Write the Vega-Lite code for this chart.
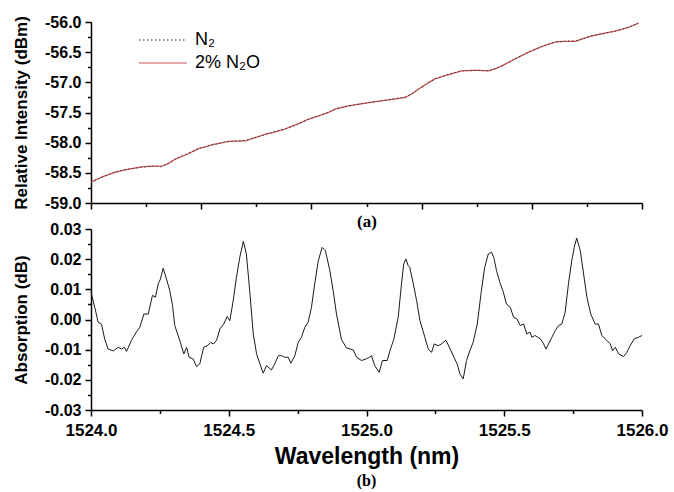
{
  "$schema": "https://vega.github.io/schema/vega-lite/v6.json",
  "padding": {"left": 12, "top": 14, "right": 2, "bottom": 0},
  "background": "white",
  "bounds": "flush",
  "spacing": 26,
  "config": {
    "view": {"stroke": null},
    "axis": {
      "domainColor": "black", "domainWidth": 1.5, "tickColor": "black", "tickWidth": 1.5,
      "labelFont": "Liberation Sans", "labelFontWeight": "bold", "labelColor": "black",
      "titleFont": "Liberation Sans", "titleFontWeight": "bold", "titleColor": "black",
      "grid": false, "labelFlush": false, "labelOverlap": false
    }
  },
  "datasets": {
    "top": [
      {"wl": 1524.000, "N2O": -58.65, "N2": -58.66},
      {"wl": 1524.045, "N2O": -58.56, "N2": -58.56},
      {"wl": 1524.089, "N2O": -58.49, "N2": -58.48},
      {"wl": 1524.135, "N2O": -58.44, "N2": -58.44},
      {"wl": 1524.183, "N2O": -58.40, "N2": -58.41},
      {"wl": 1524.220, "N2O": -58.39, "N2": -58.39},
      {"wl": 1524.256, "N2O": -58.39, "N2": -58.40},
      {"wl": 1524.280, "N2O": -58.35, "N2": -58.34},
      {"wl": 1524.307, "N2O": -58.27, "N2": -58.27},
      {"wl": 1524.350, "N2O": -58.19, "N2": -58.18},
      {"wl": 1524.390, "N2O": -58.10, "N2": -58.10},
      {"wl": 1524.445, "N2O": -58.03, "N2": -58.03},
      {"wl": 1524.499, "N2O": -57.98, "N2": -57.98},
      {"wl": 1524.561, "N2O": -57.97, "N2": -57.96},
      {"wl": 1524.600, "N2O": -57.91, "N2": -57.91},
      {"wl": 1524.633, "N2O": -57.86, "N2": -57.87},
      {"wl": 1524.670, "N2O": -57.82, "N2": -57.81},
      {"wl": 1524.706, "N2O": -57.77, "N2": -57.77},
      {"wl": 1524.750, "N2O": -57.69, "N2": -57.70},
      {"wl": 1524.790, "N2O": -57.61, "N2": -57.61},
      {"wl": 1524.830, "N2O": -57.55, "N2": -57.55},
      {"wl": 1524.862, "N2O": -57.50, "N2": -57.49},
      {"wl": 1524.888, "N2O": -57.44, "N2": -57.44},
      {"wl": 1524.935, "N2O": -57.39, "N2": -57.39},
      {"wl": 1524.975, "N2O": -57.36, "N2": -57.36},
      {"wl": 1525.018, "N2O": -57.33, "N2": -57.33},
      {"wl": 1525.080, "N2O": -57.29, "N2": -57.29},
      {"wl": 1525.142, "N2O": -57.25, "N2": -57.24},
      {"wl": 1525.165, "N2O": -57.19, "N2": -57.19},
      {"wl": 1525.189, "N2O": -57.11, "N2": -57.12},
      {"wl": 1525.220, "N2O": -57.02, "N2": -57.02},
      {"wl": 1525.250, "N2O": -56.94, "N2": -56.94},
      {"wl": 1525.300, "N2O": -56.87, "N2": -56.86},
      {"wl": 1525.345, "N2O": -56.81, "N2": -56.81},
      {"wl": 1525.400, "N2O": -56.80, "N2": -56.80},
      {"wl": 1525.443, "N2O": -56.81, "N2": -56.81},
      {"wl": 1525.470, "N2O": -56.77, "N2": -56.77},
      {"wl": 1525.490, "N2O": -56.73, "N2": -56.73},
      {"wl": 1525.540, "N2O": -56.61, "N2": -56.61},
      {"wl": 1525.588, "N2O": -56.50, "N2": -56.50},
      {"wl": 1525.640, "N2O": -56.40, "N2": -56.40},
      {"wl": 1525.686, "N2O": -56.33, "N2": -56.33},
      {"wl": 1525.720, "N2O": -56.32, "N2": -56.32},
      {"wl": 1525.759, "N2O": -56.32, "N2": -56.31},
      {"wl": 1525.790, "N2O": -56.27, "N2": -56.27},
      {"wl": 1525.817, "N2O": -56.23, "N2": -56.23},
      {"wl": 1525.860, "N2O": -56.19, "N2": -56.19},
      {"wl": 1525.904, "N2O": -56.15, "N2": -56.15},
      {"wl": 1525.950, "N2O": -56.09, "N2": -56.09},
      {"wl": 1525.987, "N2O": -56.02, "N2": -56.02}
    ],
    "bottom": [
      {"wl": 1524.000, "a": 0.0090}, {"wl": 1524.014, "a": 0.0039}, {"wl": 1524.026, "a": -0.0009},
      {"wl": 1524.038, "a": -0.0015}, {"wl": 1524.050, "a": -0.0066}, {"wl": 1524.062, "a": -0.0098},
      {"wl": 1524.081, "a": -0.0104}, {"wl": 1524.099, "a": -0.0092}, {"wl": 1524.111, "a": -0.0098},
      {"wl": 1524.121, "a": -0.0092}, {"wl": 1524.129, "a": -0.0106}, {"wl": 1524.147, "a": -0.0069},
      {"wl": 1524.165, "a": -0.0041}, {"wl": 1524.177, "a": -0.0026}, {"wl": 1524.192, "a": 0.0018},
      {"wl": 1524.208, "a": 0.0018}, {"wl": 1524.223, "a": 0.0080}, {"wl": 1524.234, "a": 0.0074},
      {"wl": 1524.244, "a": 0.0118}, {"wl": 1524.252, "a": 0.0134}, {"wl": 1524.262, "a": 0.0170},
      {"wl": 1524.274, "a": 0.0134}, {"wl": 1524.286, "a": 0.0096}, {"wl": 1524.296, "a": 0.0046},
      {"wl": 1524.304, "a": -0.0020}, {"wl": 1524.322, "a": -0.0069}, {"wl": 1524.337, "a": -0.0114},
      {"wl": 1524.347, "a": -0.0092}, {"wl": 1524.356, "a": -0.0125}, {"wl": 1524.371, "a": -0.0131},
      {"wl": 1524.383, "a": -0.0156}, {"wl": 1524.395, "a": -0.0147}, {"wl": 1524.409, "a": -0.0092},
      {"wl": 1524.422, "a": -0.0087}, {"wl": 1524.434, "a": -0.0076}, {"wl": 1524.444, "a": -0.0081},
      {"wl": 1524.456, "a": -0.0069}, {"wl": 1524.468, "a": -0.0031}, {"wl": 1524.482, "a": -0.0015},
      {"wl": 1524.494, "a": 0.0010}, {"wl": 1524.504, "a": -0.0004}, {"wl": 1524.516, "a": 0.0062},
      {"wl": 1524.528, "a": 0.0140}, {"wl": 1524.540, "a": 0.0206}, {"wl": 1524.553, "a": 0.0259},
      {"wl": 1524.564, "a": 0.0217}, {"wl": 1524.576, "a": 0.0096}, {"wl": 1524.589, "a": -0.0048},
      {"wl": 1524.601, "a": -0.0114}, {"wl": 1524.613, "a": -0.0147}, {"wl": 1524.625, "a": -0.0178},
      {"wl": 1524.637, "a": -0.0153}, {"wl": 1524.655, "a": -0.0167}, {"wl": 1524.667, "a": -0.0147},
      {"wl": 1524.680, "a": -0.0120}, {"wl": 1524.692, "a": -0.0120}, {"wl": 1524.703, "a": -0.0125},
      {"wl": 1524.716, "a": -0.0125}, {"wl": 1524.725, "a": -0.0145}, {"wl": 1524.740, "a": -0.0120},
      {"wl": 1524.752, "a": -0.0076}, {"wl": 1524.764, "a": -0.0059}, {"wl": 1524.776, "a": -0.0026},
      {"wl": 1524.788, "a": -0.0009}, {"wl": 1524.800, "a": 0.0039}, {"wl": 1524.812, "a": 0.0118},
      {"wl": 1524.825, "a": 0.0195}, {"wl": 1524.839, "a": 0.0239}, {"wl": 1524.851, "a": 0.0228},
      {"wl": 1524.867, "a": 0.0162}, {"wl": 1524.879, "a": 0.0096}, {"wl": 1524.891, "a": 0.0018},
      {"wl": 1524.909, "a": -0.0066}, {"wl": 1524.927, "a": -0.0094}, {"wl": 1524.952, "a": -0.0101},
      {"wl": 1524.964, "a": -0.0125}, {"wl": 1524.982, "a": -0.0136}, {"wl": 1525.000, "a": -0.0130},
      {"wl": 1525.012, "a": -0.0125}, {"wl": 1525.018, "a": -0.0120}, {"wl": 1525.030, "a": -0.0153},
      {"wl": 1525.046, "a": -0.0175}, {"wl": 1525.058, "a": -0.0136}, {"wl": 1525.075, "a": -0.0136},
      {"wl": 1525.087, "a": -0.0098}, {"wl": 1525.099, "a": -0.0066}, {"wl": 1525.115, "a": 0.0007},
      {"wl": 1525.127, "a": 0.0118}, {"wl": 1525.135, "a": 0.0184}, {"wl": 1525.143, "a": 0.0201},
      {"wl": 1525.151, "a": 0.0179}, {"wl": 1525.157, "a": 0.0173}, {"wl": 1525.170, "a": 0.0118},
      {"wl": 1525.182, "a": 0.0062}, {"wl": 1525.194, "a": -0.0004}, {"wl": 1525.212, "a": -0.0059},
      {"wl": 1525.224, "a": -0.0098}, {"wl": 1525.236, "a": -0.0109}, {"wl": 1525.246, "a": -0.0081},
      {"wl": 1525.260, "a": -0.0087}, {"wl": 1525.272, "a": -0.0081}, {"wl": 1525.288, "a": -0.0069},
      {"wl": 1525.302, "a": -0.0094}, {"wl": 1525.317, "a": -0.0125}, {"wl": 1525.329, "a": -0.0147},
      {"wl": 1525.339, "a": -0.0180}, {"wl": 1525.351, "a": -0.0197}, {"wl": 1525.363, "a": -0.0136},
      {"wl": 1525.375, "a": -0.0104}, {"wl": 1525.387, "a": -0.0076}, {"wl": 1525.402, "a": -0.0015},
      {"wl": 1525.417, "a": 0.0096}, {"wl": 1525.429, "a": 0.0173}, {"wl": 1525.442, "a": 0.0217},
      {"wl": 1525.454, "a": 0.0223}, {"wl": 1525.462, "a": 0.0206}, {"wl": 1525.472, "a": 0.0162},
      {"wl": 1525.484, "a": 0.0123}, {"wl": 1525.496, "a": 0.0093}, {"wl": 1525.508, "a": 0.0051},
      {"wl": 1525.522, "a": 0.0040}, {"wl": 1525.534, "a": 0.0007}, {"wl": 1525.546, "a": 0.0002},
      {"wl": 1525.558, "a": -0.0020}, {"wl": 1525.570, "a": -0.0015}, {"wl": 1525.582, "a": -0.0048},
      {"wl": 1525.594, "a": -0.0042}, {"wl": 1525.600, "a": -0.0059}, {"wl": 1525.612, "a": -0.0053},
      {"wl": 1525.631, "a": -0.0064}, {"wl": 1525.643, "a": -0.0081}, {"wl": 1525.651, "a": -0.0098},
      {"wl": 1525.661, "a": -0.0081}, {"wl": 1525.673, "a": -0.0059}, {"wl": 1525.685, "a": -0.0037},
      {"wl": 1525.697, "a": -0.0020}, {"wl": 1525.709, "a": -0.0015}, {"wl": 1525.721, "a": 0.0024},
      {"wl": 1525.733, "a": 0.0118}, {"wl": 1525.745, "a": 0.0195}, {"wl": 1525.754, "a": 0.0239},
      {"wl": 1525.763, "a": 0.0270}, {"wl": 1525.776, "a": 0.0228}, {"wl": 1525.788, "a": 0.0151},
      {"wl": 1525.800, "a": 0.0074}, {"wl": 1525.814, "a": 0.0018}, {"wl": 1525.830, "a": -0.0015},
      {"wl": 1525.842, "a": -0.0015}, {"wl": 1525.854, "a": -0.0053}, {"wl": 1525.872, "a": -0.0069},
      {"wl": 1525.885, "a": -0.0081}, {"wl": 1525.893, "a": -0.0104}, {"wl": 1525.903, "a": -0.0092},
      {"wl": 1525.915, "a": -0.0114}, {"wl": 1525.933, "a": -0.0123}, {"wl": 1525.945, "a": -0.0109},
      {"wl": 1525.957, "a": -0.0087}, {"wl": 1525.972, "a": -0.0064}, {"wl": 1525.987, "a": -0.0059},
      {"wl": 1526.000, "a": -0.0053}
    ]
  },
  "vconcat": [
    {
      "width": 551,
      "height": 181,
      "data": {"name": "top"},
      "transform": [{"fold": ["N2", "N2O"], "as": ["series", "v"]}],
      "encoding": {
        "x": {
          "field": "wl", "type": "quantitative",
          "scale": {"domain": [1524, 1526], "nice": false, "zero": false},
          "axis": {
            "title": "(a)", "titleFont": "Liberation Serif", "titleFontSize": 17, "titlePadding": 4,
            "labels": false,
            "values": [1524, 1524.2, 1524.4, 1524.6, 1524.8, 1525, 1525.2, 1525.4, 1525.6, 1525.8, 1526],
            "tickSize": {"condition": {"test": "abs((datum.value-1524)/0.4 - round((datum.value-1524)/0.4)) < 1e-6", "value": 6}, "value": 3.5}
          }
        },
        "y": {
          "field": "v", "type": "quantitative",
          "scale": {"domain": [-59, -56], "nice": false, "zero": false},
          "axis": {
            "title": "Relative Intensity (dBm)", "titleFontSize": 17, "titlePadding": 14,
            "labelFontSize": 16, "labelPadding": 4,
            "values": [-59, -58.75, -58.5, -58.25, -58, -57.75, -57.5, -57.25, -57, -56.75, -56.5, -56.25, -56],
            "labelExpr": "abs(datum.value*2-round(datum.value*2))<1e-6 ? replace(format(datum.value,'.1f'),'−','-') : ''",
            "tickSize": {"condition": {"test": "abs(datum.value*2-round(datum.value*2))<1e-6", "value": 6}, "value": 3.5}
          }
        },
        "color": {
          "field": "series", "type": "nominal",
          "scale": {"domain": ["N2", "N2O"], "range": ["#222222", "#cc5555"]},
          "legend": {
            "orient": "none", "legendX": 63, "legendY": 9, "title": null,
            "labelFont": "Liberation Sans", "labelFontSize": 18, "labelColor": "black",
            "symbolType": "M-4,0H4", "symbolSize": 144, "symbolStrokeWidth": 1.2,
            "labelOffset": 23, "rowPadding": 5,
            "labelExpr": "datum.label == 'N2' ? 'N₂' : '2% N₂O'"
          }
        },
        "strokeDash": {
          "field": "series", "type": "nominal",
          "scale": {"domain": ["N2", "N2O"], "range": [[1.5, 2.5], [1, 0]]},
          "legend": null
        }
      },
      "layer": [
        {"transform": [{"filter": "datum.series == 'N2O'"}], "mark": {"type": "line", "strokeWidth": 1.3}},
        {"transform": [{"filter": "datum.series == 'N2'"}], "mark": {"type": "line", "strokeWidth": 0.8}}
      ]
    },
    {
      "width": 551,
      "height": 181,
      "data": {"name": "bottom"},
      "title": {"text": "(b)", "orient": "bottom", "font": "Liberation Serif", "fontSize": 16, "fontWeight": "bold", "color": "black", "offset": 5, "anchor": "middle", "frame": "group"},
      "mark": {"type": "line", "color": "#1a1a1a", "strokeWidth": 1},
      "encoding": {
        "x": {
          "field": "wl", "type": "quantitative",
          "scale": {"domain": [1524, 1526], "nice": false, "zero": false},
          "axis": {
            "title": "Wavelength (nm)", "titleFontSize": 23, "titlePadding": 7,
            "labelFontSize": 17, "labelPadding": 6,
            "values": [1524, 1524.25, 1524.5, 1524.75, 1525, 1525.25, 1525.5, 1525.75, 1526],
            "labelExpr": "abs(datum.value*2-round(datum.value*2))<1e-6 ? format(datum.value,'.1f') : ''",
            "tickSize": {"condition": {"test": "abs(datum.value*2-round(datum.value*2))<1e-6", "value": 6}, "value": 3.5}
          }
        },
        "y": {
          "field": "a", "type": "quantitative",
          "scale": {"domain": [-0.03, 0.03], "nice": false, "zero": false},
          "axis": {
            "title": "Absorption (dB)", "titleFontSize": 17, "titlePadding": 14,
            "labelFontSize": 16, "labelPadding": 4,
            "values": [-0.03, -0.025, -0.02, -0.015, -0.01, -0.005, 0, 0.005, 0.01, 0.015, 0.02, 0.025, 0.03],
            "labelExpr": "abs(datum.value*100-round(datum.value*100))<1e-6 ? replace(format(datum.value,'.2f'),'−','-') : ''",
            "tickSize": {"condition": {"test": "abs(datum.value*100-round(datum.value*100))<1e-6", "value": 6}, "value": 3.5}
          }
        }
      }
    }
  ]
}
